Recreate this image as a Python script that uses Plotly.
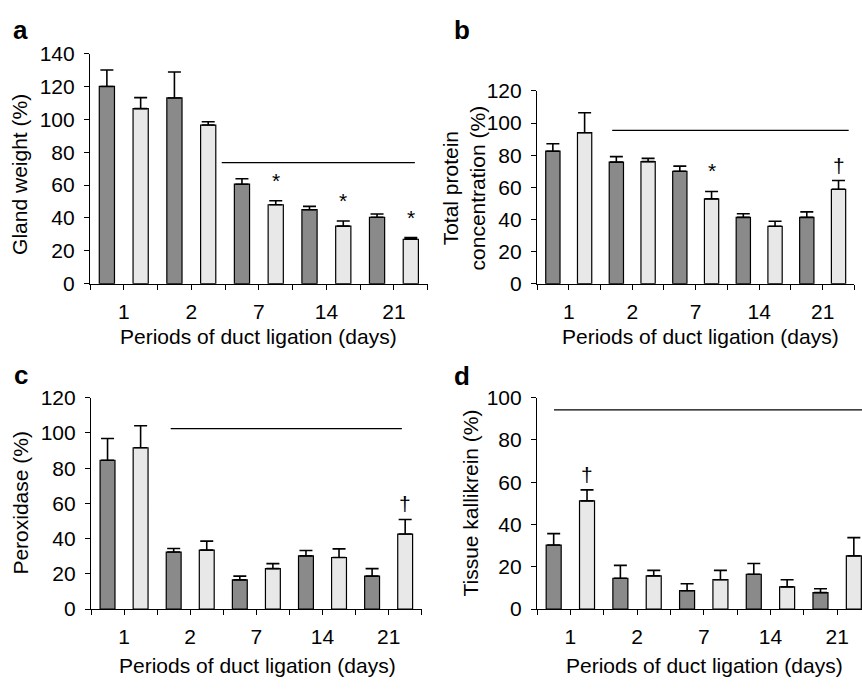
import plotly.graph_objects as go

# ---------------- data ----------------
days = ["1", "2", "7", "14", "21"]

# panel a: Gland weight (%)
a_dark = [120, 113, 60.5, 45, 40.4]
a_dark_err = [10, 15.8, 3.3, 2, 2]
a_light = [106.5, 96.5, 48, 35, 27]
a_light_err = [6.7, 2, 2.4, 3.1, 1]

# panel b: Total protein concentration (%)
b_dark = [82.5, 75.7, 70, 41.3, 41.3]
b_dark_err = [4.6, 3.4, 3.2, 2.2, 3.4]
b_light = [94, 76, 52.8, 35.7, 58.8]
b_light_err = [12.4, 2, 4.6, 3.2, 5.4]

# panel c: Peroxidase (%)
c_dark = [84.5, 32.4, 16.6, 30.2, 18.7]
c_dark_err = [12.3, 2, 2.1, 3.1, 4.3]
c_light = [91.6, 33.5, 23, 29.3, 42.6]
c_light_err = [12.5, 5.1, 2.8, 4.9, 8.3]

# panel d: Tissue kallikrein (%)
d_dark = [30.3, 14.6, 8.7, 16.5, 7.8]
d_dark_err = [5.4, 6.1, 3.3, 5.1, 1.8]
d_light = [51.2, 15.7, 13.9, 10.5, 25.2]
d_light_err = [5.2, 2.6, 4.4, 3.4, 8.6]

# significance marks: (group index, mark) on the light bars
a_marks = [(2, "*"), (3, "*"), (4, "*")]
b_marks = [(2, "*"), (4, "\u2020")]
c_marks = [(4, "\u2020")]
d_marks = [(0, "\u2020")]

# horizontal significance lines: (x start, x end, y) in category units / value units
a_line = (3.9, 9.62, 73.6)
b_line = (2.37, 9.82, 95.5)
c_line = (2.41, 9.4, 102.5)
d_line = (0.51, 9.8, 94.2)

y_titles = ["Gland weight (%)", "Total protein<br>concentration (%)",
            "Peroxidase (%)", "Tissue kallikrein (%)"]
x_title = "Periods of duct ligation (days)"
panel_letters = ["a", "b", "c", "d"]
y_ranges = [140, 120, 120, 100]

# ---------------- layout geometry (pixels) ----------------
W, H = 862, 690
FONT = "Arial, Liberation Sans, sans-serif"
DARK = "#8a8a8a"
LIGHT = "#e8e8e8"

panels = [
    dict(dark=a_dark, de=a_dark_err, light=a_light, le=a_light_err, marks=a_marks, line=a_line,
         x0=90, x1=427.7, xr=10, yb=281, yt=43),
    dict(dark=b_dark, de=b_dark_err, light=b_light, le=b_light_err, marks=b_marks, line=b_line,
         x0=537, x1=854.4, xr=10, yb=281, yt=81.7),
    dict(dark=c_dark, de=c_dark_err, light=c_light, le=c_light_err, marks=c_marks, line=c_line,
         x0=91, x1=421.7, xr=10, yb=617.7, yt=399),
    dict(dark=d_dark, de=d_dark_err, light=d_light, le=d_light_err, marks=d_marks, line=d_line,
         x0=537, x1=862, xr=9.745, yb=617.7, yt=399),
]

fig = go.Figure()
annotations = []
shapes = []
BW = 0.45

tickvals = list(range(0, 11))
ticktext = []
for k in range(11):
    ticktext.append(days[(k - 1) // 2] if k % 2 == 1 else "")

for i, p in enumerate(panels):
    xa = "x" if i == 0 else f"x{i+1}"
    ya = "y" if i == 0 else f"y{i+1}"
    xa_key = "xaxis" if i == 0 else f"xaxis{i+1}"
    ya_key = "yaxis" if i == 0 else f"yaxis{i+1}"
    n = len(days)
    xd = [2 * g + 0.5 for g in range(n)]
    xl = [2 * g + 1.5 for g in range(n)]
    for xs, vals, errs, col in [(xd, p["dark"], p["de"], DARK), (xl, p["light"], p["le"], LIGHT)]:
        fig.add_trace(go.Bar(
            x=xs, y=vals, width=BW, xaxis=xa, yaxis=ya,
            marker=dict(color=col, line=dict(color="black", width=1.2)),
            error_y=dict(type="data", symmetric=False, array=errs, arrayminus=[0] * n,
                         color="black", thickness=1.6, width=6.5),
            showlegend=False, hoverinfo="skip"))
    # axes
    fig.layout[xa_key] = dict(
        domain=[p["x0"] / W, p["x1"] / W], range=[0, p["xr"]], anchor=ya,
        showgrid=False, zeroline=False, showline=True, linecolor="black", linewidth=1.2,
        ticks="outside", ticklen=5, tickwidth=1.2, tickcolor="black",
        tickmode="array", tickvals=tickvals, ticktext=ticktext, ticklabelstandoff=4,
        tickfont=dict(family=FONT, size=21, color="black"), fixedrange=True)
    fig.layout[ya_key] = dict(
        domain=[1 - p["yb"] / H, 1 - p["yt"] / H], range=[0, y_ranges[i]], anchor=xa,
        showgrid=False, zeroline=False, showline=True, linecolor="black", linewidth=1.2,
        ticks="outside", ticklen=5, tickwidth=1.2, tickcolor="black", dtick=20,
        ticklabelstandoff=5,
        tickfont=dict(family=FONT, size=21, color="black"), fixedrange=True)
    # significance marks
    for g, m in p["marks"]:
        top = p["light"][g] + p["le"][g]
        annotations.append(dict(
            x=2 * g + 1.5, y=top, xref=xa, yref=ya, text=m, showarrow=False,
            xanchor="center", yanchor="bottom", yshift=7 if m == "*" else 2,
            font=dict(family=FONT, size=21, color="black")))
    # significance line
    lx0, lx1, ly = p["line"]
    shapes.append(dict(type="line", xref=xa, yref=ya, x0=lx0, x1=lx1, y0=ly, y1=ly,
                       line=dict(color="black", width=1.3)))

# panel letters
letter_pos = [(11, 19), (452, 19), (12, 376), (452, 377)]
for (lx, ly), t in zip(letter_pos, panel_letters):
    annotations.append(dict(x=lx / W, y=1 - ly / H, xref="paper", yref="paper", text=f"<b>{t}</b>",
                            showarrow=False, xanchor="left", yanchor="middle",
                            font=dict(family=FONT, size=26, color="black")))

# y titles
ytitle_pos = [(19.5, 168), (463.5, 182), (21, 507.5), (470.5, 508)]
for (tx, ty), t in zip(ytitle_pos, y_titles):
    annotations.append(dict(x=tx / W, y=1 - ty / H, xref="paper", yref="paper", text=t,
                            showarrow=False, textangle=-90, xanchor="center", yanchor="middle",
                            font=dict(family=FONT, size=21, color="black")))

# x titles
xtitle_pos = [(258.5, 336), (700, 336), (257, 676), (704, 676)]
for (tx, ty) in xtitle_pos:
    annotations.append(dict(x=tx / W, y=1 - ty / H, xref="paper", yref="paper", text=x_title,
                            showarrow=False, xanchor="center", yanchor="middle",
                            font=dict(family=FONT, size=21, color="black")))

fig.update_layout(
    width=W, height=H, margin=dict(l=0, r=0, t=0, b=0),
    paper_bgcolor="white", plot_bgcolor="white",
    barmode="overlay", annotations=annotations, shapes=shapes,
    font=dict(family=FONT, color="black"))

fig.write_html("out.html", config={"displayModeBar": False},
               post_script="document.body.style.margin='0';document.body.style.overflow='hidden';")
